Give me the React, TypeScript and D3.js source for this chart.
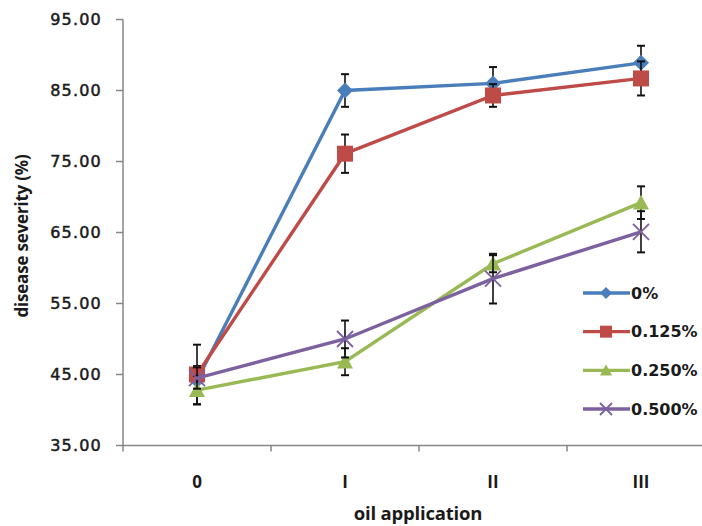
import * as d3 from "d3";

const categories = ["0", "I", "II", "III"];
const seriesNames = ["0%", "0.125%", "0.250%", "0.500%"];
const values0 = [44.2, 85.0, 86.0, 88.9];
const err0 = [2.0, 2.3, 2.3, 2.4];
const values125 = [45.0, 76.1, 84.3, 86.7];
const err125 = [4.2, 2.7, 1.6, 2.4];
const values250 = [42.8, 46.8, 60.6, 69.2];
const err250 = [2.0, 1.9, 1.2, 2.3];
const values500 = [44.5, 50.0, 58.5, 65.1];
const err500 = [1.5, 2.6, 3.5, 2.9];
const yTicks = [35, 45, 55, 65, 75, 85, 95];

const colors = ["#4a7ebb", "#be4b48", "#98b954", "#7d60a0"];
const shapes = ["diamond", "square", "triangle", "x"];

const W = 702;
const H = 526;

function marker(shape: string, cx: number, cy: number, color: string, s: number, key: string) {
  if (shape === "diamond") {
    return <path key={key} d={`M${cx},${cy - s}L${cx + s},${cy}L${cx},${cy + s}L${cx - s},${cy}Z`} fill={color} />;
  }
  if (shape === "square") {
    return <rect key={key} x={cx - s} y={cy - s} width={2 * s} height={2 * s} fill={color} />;
  }
  if (shape === "triangle") {
    return <path key={key} d={`M${cx},${cy - s}L${cx + s},${cy + s * 0.85}L${cx - s},${cy + s * 0.85}Z`} fill={color} />;
  }
  return (
    <path key={key} d={`M${cx - s},${cy - s}L${cx + s},${cy + s}M${cx + s},${cy - s}L${cx - s},${cy + s}`}
      stroke={color} strokeWidth={1.8} fill="none" />
  );
}

export default function App() {
  const x = d3.scaleBand<string>().domain(categories).range([123, 715]);
  const y = d3.scaleLinear().domain([35, 95]).range([445.5, 19.5]);
  const cx = (c: string) => (x(c) as number) + x.bandwidth() / 2;

  const series = [
    { name: seriesNames[0], v: values0, e: err0 },
    { name: seriesNames[1], v: values125, e: err125 },
    { name: seriesNames[2], v: values250, e: err250 },
    { name: seriesNames[3], v: values500, e: err500 },
  ];

  const line = d3.line<number>()
    .x((_, i) => cx(categories[i]))
    .y((d) => y(d));

  const fmt = d3.format(".2f");
  const legendY = d3.scaleLinear().domain([0, 3]).range([293, 409]);

  return (
    <div style={{ position: "absolute", left: 0, top: 0 }}>
      <svg width={W} height={H} style={{ display: "block", background: "#fff" }}>
        {/* y axis */}
        <line x1={123} x2={123} y1={y(95)} y2={y(35)} stroke="#868686" strokeWidth={1.5} />
        {yTicks.map((t) => (
          <g key={t}>
            <line x1={116} x2={123} y1={y(t)} y2={y(t)} stroke="#868686" strokeWidth={1.5} />
            <text x={102} y={y(t)} dy="0.36em" textAnchor="end" fontFamily="DejaVu Sans" fontSize={16}
              letterSpacing={1.2} fill="#1a1a1a" stroke="#1a1a1a" strokeWidth={0.5}>{fmt(t)}</text>
          </g>
        ))}
        {/* x axis */}
        <line x1={123} x2={W} y1={y(35)} y2={y(35)} stroke="#868686" strokeWidth={1.5} />
        {categories.map((c) => (
          <g key={c}>
            <line x1={x(c)} x2={x(c)} y1={y(35)} y2={y(35) + 6} stroke="#868686" strokeWidth={1.5} />
            <text x={cx(c)} y={488} textAnchor="middle" fontFamily="Open Sans" fontWeight={700} fontSize={17}
              fill="#1a1a1a">{c}</text>
          </g>
        ))}
        <text x={418} y={520} textAnchor="middle" fontFamily="Open Sans" fontWeight={700} fontSize={18.5}
          letterSpacing={-0.2} fill="#1a1a1a">oil application</text>
        <text transform="translate(28,236) rotate(-90)" textAnchor="middle" fontFamily="Open Sans" fontWeight={700}
          fontSize={17} letterSpacing={-0.2} fill="#1a1a1a">disease severity (%)</text>

        {/* series */}
        {series.map((s, si) => (
          <g key={s.name}>
            <path d={line(s.v) as string} fill="none" stroke={colors[si]} strokeWidth={3.4} />
            {s.v.map((v, i) => {
              const px = cx(categories[i]);
              const top = y(v + s.e[i]);
              const bot = y(v - s.e[i]);
              return (
                <g key={i} stroke="#111" strokeWidth={1.6}>
                  <line x1={px} x2={px} y1={top} y2={bot} />
                  <line x1={px - 4} x2={px + 4} y1={top} y2={top} strokeWidth={2} />
                  <line x1={px - 4} x2={px + 4} y1={bot} y2={bot} strokeWidth={2} />
                </g>
              );
            })}
            {s.v.map((v, i) => marker(shapes[si], cx(categories[i]), y(v), colors[si], 8, `m${i}`))}
          </g>
        ))}

        {/* legend */}
        {series.map((s, si) => {
          const ly = legendY(si);
          return (
            <g key={`l${si}`}>
              <line x1={583} x2={630} y1={ly} y2={ly} stroke={colors[si]} strokeWidth={3.4} />
              {marker(shapes[si], 606, ly, colors[si], 6, `lm${si}`)}
              <text x={631} y={ly} dy="0.36em" fontFamily="DejaVu Sans" fontSize={16} fontWeight="bold"
                fill="#1a1a1a">{s.name}</text>
            </g>
          );
        })}
      </svg>
    </div>
  );
}
